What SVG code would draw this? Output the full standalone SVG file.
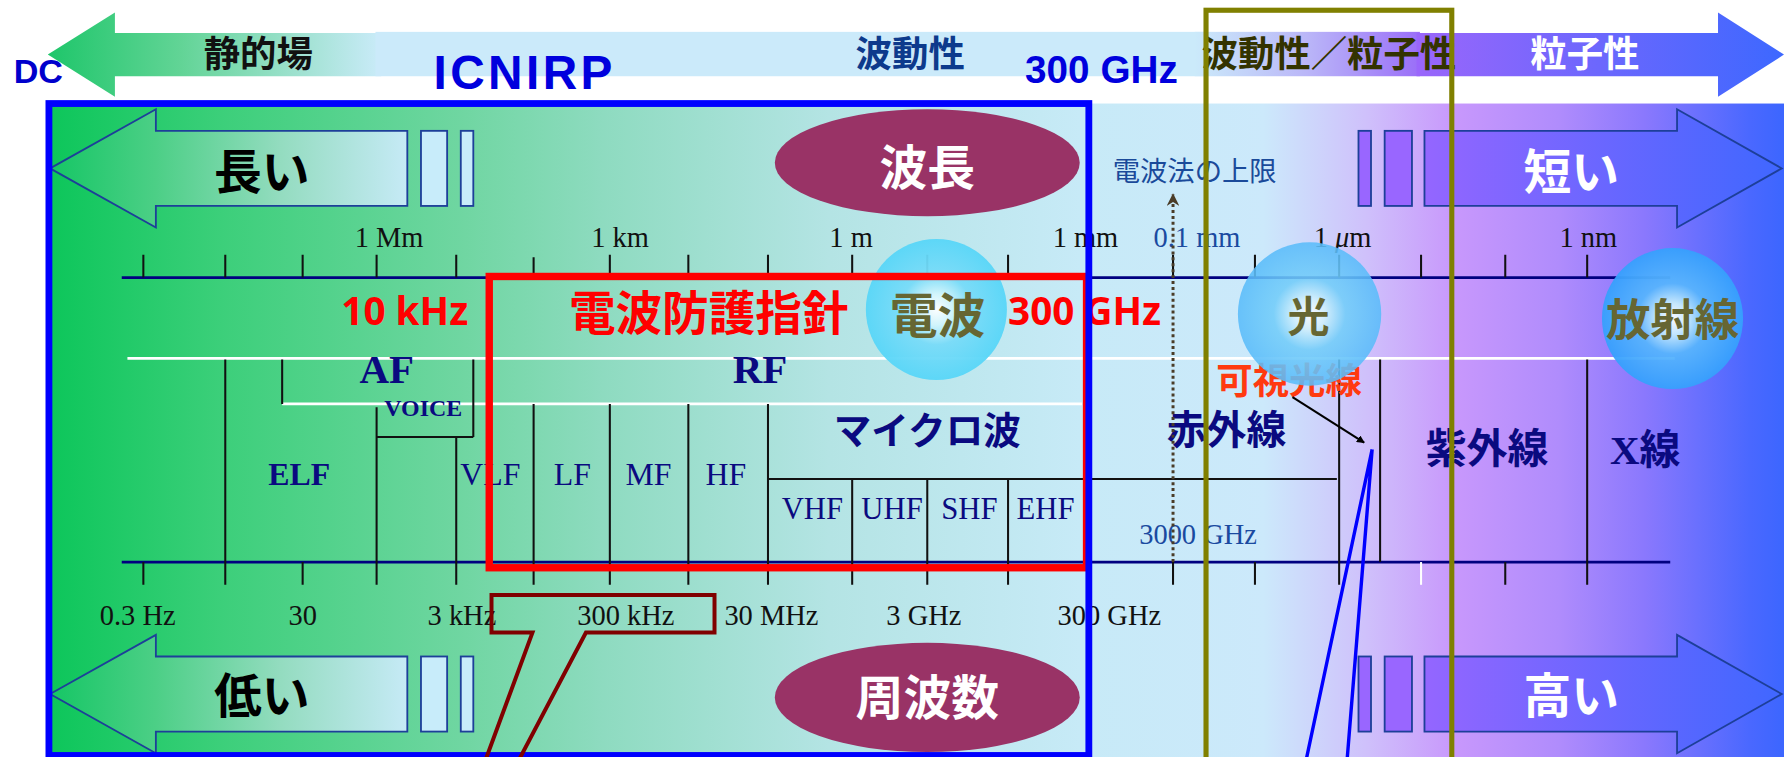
<svg xmlns="http://www.w3.org/2000/svg" width="1784" height="757" viewBox="0 0 1784 757">
<style>
.jb{font-family:"Noto Sans CJK JP","Noto Sans CJK SC",sans-serif;font-weight:700}
.jn{font-family:"Noto Sans CJK JP","Noto Sans CJK SC",sans-serif;font-weight:400}
.tm{font-family:"Liberation Serif","DejaVu Serif",serif}
.tb{font-family:"Liberation Serif","DejaVu Serif",serif;font-weight:700}
.sb{font-family:"Liberation Sans",Arial,sans-serif;font-weight:700}
.nb{font-family:"Noto Sans","Liberation Sans",sans-serif;font-weight:700}
.mid{text-anchor:middle}
.blk{stroke:#111;stroke-width:1.8;fill:none}
.navy{stroke:#000080;stroke-width:2.4;fill:none}
.wht{stroke:#ffffff;stroke-width:2.4;fill:none}
.arrOut{stroke:#1d3f99;stroke-width:1.6}
.band{fill:#0a0a80}
</style>
<defs>
<linearGradient id="gTopL" gradientUnits="userSpaceOnUse" x1="42" y1="0" x2="335" y2="0">
<stop offset="0" stop-color="#1ec66a"/><stop offset="0.4" stop-color="#62d496"/><stop offset="1" stop-color="#caebf9"/>
</linearGradient>
<linearGradient id="gTopMid" gradientUnits="userSpaceOnUse" x1="1050" y1="0" x2="1248" y2="0">
<stop offset="0" stop-color="#cbeafa"/><stop offset="0.5" stop-color="#bab6f8"/><stop offset="1" stop-color="#9a6ef8"/>
</linearGradient>
<linearGradient id="gTopR" gradientUnits="userSpaceOnUse" x1="1245" y1="0" x2="1568" y2="0">
<stop offset="0" stop-color="#9a66fb"/><stop offset="1" stop-color="#3d68ff"/>
</linearGradient>
<linearGradient id="gBg" gradientUnits="userSpaceOnUse" x1="42" y1="0" x2="1568" y2="0">
<stop offset="0" stop-color="#0cc65a"/>
<stop offset="0.10" stop-color="#3ccf7a"/>
<stop offset="0.24" stop-color="#70d6a2"/>
<stop offset="0.32" stop-color="#8edbc0"/>
<stop offset="0.45" stop-color="#b4e4e4"/>
<stop offset="0.595" stop-color="#c7eaf7"/>
<stop offset="0.70" stop-color="#cce9fb"/>
<stop offset="0.76" stop-color="#cfc0fb"/>
<stop offset="0.81" stop-color="#c898fc"/>
<stop offset="0.87" stop-color="#b08cfc"/>
<stop offset="0.92" stop-color="#8a78fd"/>
<stop offset="0.98" stop-color="#4a68ff"/>
<stop offset="1" stop-color="#3c66ff"/>
</linearGradient>
<linearGradient id="gArrL" gradientUnits="userSpaceOnUse" x1="42" y1="0" x2="358" y2="0">
<stop offset="0" stop-color="#14c664"/><stop offset="0.3" stop-color="#4ccf86"/><stop offset="0.65" stop-color="#94dcc0"/><stop offset="1" stop-color="#c6eaf6"/>
</linearGradient>
<linearGradient id="gArrR" gradientUnits="userSpaceOnUse" x1="1252" y1="0" x2="1568" y2="0">
<stop offset="0" stop-color="#9466ff"/><stop offset="1" stop-color="#3f67ff"/>
</linearGradient>
<radialGradient id="gBub1">
<stop offset="0" stop-color="#ffffff"/><stop offset="0.22" stop-color="#d2f5fc"/><stop offset="0.5" stop-color="#78dbf8"/><stop offset="1" stop-color="#58d6f8"/>
</radialGradient>
<radialGradient id="gBub2">
<stop offset="0" stop-color="#ffffff"/><stop offset="0.22" stop-color="#d0f0fc"/><stop offset="0.5" stop-color="#72cdf9"/><stop offset="1" stop-color="#5abcfa"/>
</radialGradient>
<radialGradient id="gBub3">
<stop offset="0" stop-color="#ffffff"/><stop offset="0.22" stop-color="#c8ecfd"/><stop offset="0.5" stop-color="#58b4fd"/><stop offset="1" stop-color="#36a0fd"/>
</radialGradient>
<marker id="mBlk" viewBox="0 0 10 10" refX="9" refY="5" markerWidth="7" markerHeight="7" orient="auto" markerUnits="userSpaceOnUse">
<path d="M0,0 L10,5 L0,10 z" fill="#000"/>
</marker>
<marker id="mBrn" viewBox="0 0 10 10" refX="9" refY="5" markerWidth="11" markerHeight="11" orient="auto" markerUnits="userSpaceOnUse">
<path d="M0,0 L10,5 L0,10 L3,5 z" fill="#4a3c28"/>
</marker>
</defs>
<rect width="1784" height="757" fill="#ffffff"/>
<g transform="scale(1.13776)">

<g id="top-band">
<polygon points="42,48 101,11 101,29 335,29 335,67 101,67 101,85" fill="url(#gTopL)"/>
<rect x="330" y="28" width="730" height="39" fill="#cbeafa"/>
<rect x="1050" y="28" width="198" height="39" fill="url(#gTopMid)"/>
<polygon points="1245,29 1510,29 1510,11 1568,48 1510,85 1510,67 1245,67" fill="url(#gTopR)"/>
<text class="sb" x="12" y="73" font-size="30" fill="#0000cc">DC</text>
<text class="jb mid" x="227" y="59" font-size="32" fill="#111">静的場</text>
<text class="sb" x="381" y="78" font-size="42" letter-spacing="3" fill="#0000dd">ICNIRP</text>
<text class="jb mid" x="800" y="59" font-size="32" fill="#0d3a8c">波動性</text>
<text class="sb" x="901" y="73" font-size="34" fill="#0000dd">300 GHz</text>
<text class="jb mid" x="1168" y="59" font-size="32" fill="#333300">波動性／粒子性</text>
<text class="jb mid" x="1393" y="59" font-size="32" fill="#ffffff">粒子性</text>
</g>

<g id="background">
<rect x="42" y="91" width="1526" height="580" fill="url(#gBg)"/>
</g>

<g id="wavelength-ellipse">
<ellipse cx="815" cy="143" rx="134" ry="47" fill="#993366"/>
<text class="jb mid" x="815" y="163" font-size="42" fill="#ffffff">波長</text>
</g>
<g id="frequency-ellipse">
<ellipse cx="815" cy="613" rx="134" ry="48" fill="#993366"/>
<text class="jb mid" x="815" y="628" font-size="42" fill="#ffffff">周波数</text>
</g>

<g id="arrow-long">
<polygon class="arrOut" points="44,148 137,96 137,115 358,115 358,181 137,181 137,200" fill="url(#gArrL)"/>
<rect class="arrOut" x="370" y="115" width="23" height="66" fill="#c8ecfa"/>
<rect class="arrOut" x="405" y="115" width="11" height="66" fill="#c8ecfa"/>
<text class="jb mid" x="230" y="166" font-size="42" fill="#000">長い</text>
</g>
<g id="arrow-short">
<rect class="arrOut" x="1194" y="115" width="11" height="66" fill="#9966ff"/>
<rect class="arrOut" x="1217" y="115" width="24" height="66" fill="#9966ff"/>
<polygon class="arrOut" points="1252,115 1474,115 1474,96 1566,148 1474,200 1474,181 1252,181" fill="url(#gArrR)"/>
<text class="jb mid" x="1381" y="166" font-size="42" fill="#ffffff">短い</text>
</g>
<g id="arrow-low">
<polygon class="arrOut" points="44,610 137,558 137,577 358,577 358,643 137,643 137,662" fill="url(#gArrL)"/>
<rect class="arrOut" x="370" y="577" width="23" height="66" fill="#c8ecfa"/>
<rect class="arrOut" x="405" y="577" width="11" height="66" fill="#c8ecfa"/>
<text class="jb mid" x="230" y="627" font-size="42" fill="#000">低い</text>
</g>
<g id="arrow-high">
<rect class="arrOut" x="1194" y="577" width="11" height="66" fill="#9966ff"/>
<rect class="arrOut" x="1217" y="577" width="24" height="66" fill="#9966ff"/>
<polygon class="arrOut" points="1252,577 1474,577 1474,558 1566,610 1474,662 1474,643 1252,643" fill="url(#gArrR)"/>
<text class="jb mid" x="1381" y="627" font-size="42" fill="#ffffff">高い</text>
</g>

<g id="scales">
<path class="wht" d="M112,315 H1472 M248,355 H951"/>
<path class="navy" d="M107,244 H1468 M107,494 H1468"/>
<path class="blk" d="M126,224 V244 M198,224 V244 M266,224 V244 M331,224 V244 M401,224 V244 M469,226 V246 M536,224 V244 M605,224 V244 M675,224 V244 M749,224 V244 M815,224 V244 M886,224 V244 M1031,224 V244 M1103,224 V244 M1177,224 V244 M1249,224 V244 M1323,224 V244 M1395,224 V244"/>
<path class="blk" d="M126,494 V514 M266,494 V514 M1031,494 V514 M1103,494 V514 M1323,494 V514"/>
<path d="M1249,494 V514" stroke="#ffffff" stroke-width="1.8"/>
<path class="blk" d="M198,316 V514 M248,316 V355 M331,358 V514 M416,316 V384 M331,384 H416 M401,384 V514 M469,355 V514 M536,355 V514 M605,355 V514 M675,355 V514 M675,421 H1175 M749,421 V514 M815,421 V514 M886,421 V514 M1177,316 V514 M1213,316 V494 M1395,316 V514"/>
</g>

<g id="wavelength-labels" class="tm" font-size="25" fill="#111">
<text class="mid" x="342" y="217">1 Mm</text>
<text class="mid" x="545" y="217">1 km</text>
<text class="mid" x="748" y="217">1 m</text>
<text class="mid" x="954" y="217">1 mm</text>
<text class="mid" x="1052" y="217" fill="#1a4aa0">0.1 mm</text>
<text class="mid" x="1180" y="217">1 <tspan font-style="italic">μ</tspan>m</text>
<text class="mid" x="1396" y="217">1 nm</text>
</g>
<g id="frequency-labels" class="tm" font-size="25" fill="#111">
<text class="mid" x="121" y="549">0.3 Hz</text>
<text class="mid" x="266" y="549">30</text>
<text class="mid" x="406" y="549">3 kHz</text>
<text class="mid" x="550" y="549">300 kHz</text>
<text class="mid" x="678" y="549">30 MHz</text>
<text class="mid" x="812" y="549">3 GHz</text>
<text class="mid" x="975" y="549">300 GHz</text>
</g>

<g id="band-labels">
<text class="tb mid band" x="340" y="337" font-size="36">AF</text>
<text class="tb mid band" x="372" y="366" font-size="21">VOICE</text>
<text class="tb mid band" x="263" y="426" font-size="28">ELF</text>
<text class="tm mid band" x="431" y="426" font-size="28">VLF</text>
<text class="tm mid band" x="503" y="426" font-size="28">LF</text>
<text class="tm mid band" x="570" y="426" font-size="28">MF</text>
<text class="tm mid band" x="638" y="426" font-size="28">HF</text>
<text class="tb mid band" x="668" y="337" font-size="36">RF</text>
<text class="jb mid band" x="815" y="390" font-size="33">マイクロ波</text>
<text class="tm mid band" x="714" y="456" font-size="27">VHF</text>
<text class="tm mid band" x="784" y="456" font-size="27">UHF</text>
<text class="tm mid band" x="852" y="456" font-size="27">SHF</text>
<text class="tm mid band" x="919" y="456" font-size="27">EHF</text>
<text class="jb mid band" x="1078" y="390" font-size="35">赤外線</text>
<text class="jb mid band" x="1307" y="407" font-size="36">紫外線</text>
<text class="mid band" x="1446" y="408" font-size="36"><tspan class="tb">X</tspan><tspan class="jb">線</tspan></text>
<text class="tm mid" x="1053" y="478" font-size="25" fill="#1a4aa0">3000 GHz</text>
<text class="jn mid" x="1050" y="159" font-size="24" fill="#1a4a9a">電波法の上限</text>
</g>

<g id="guideline-labels">
<text class="nb" x="300" y="286" font-size="34" fill="#ff0000">10 kHz</text>
<text class="jb" x="500" y="290" font-size="41" fill="#ff0000">電波防護指針</text>
<text class="nb" x="886" y="286" font-size="34" fill="#ff0000">300 GHz</text>
<text class="jb mid" x="1133" y="346" font-size="32" fill="#ff3a10">可視光線</text>
</g>

<g id="bubble-radio">
<circle cx="823" cy="272" r="62" fill="url(#gBub1)" opacity="0.95"/>
<text class="jb mid" x="824" y="293" font-size="42" fill="#666633">電波</text>
</g>
<g id="bubble-light">
<circle cx="1151" cy="276" r="63" fill="url(#gBub2)" opacity="0.88"/>
<text class="jb mid" x="1150" y="292" font-size="37" fill="#666633">光</text>
</g>
<g id="bubble-radiation">
<circle cx="1470" cy="280" r="62" fill="url(#gBub3)" opacity="0.95"/>
<text class="jb mid" x="1470" y="295" font-size="39" fill="#666633">放射線</text>
</g>

<g id="frames">
<rect id="red-frame" x="430" y="243" width="525" height="256" fill="none" stroke="#ff0000" stroke-width="6.5"/>
<rect id="blue-frame" x="43" y="91" width="914" height="573" fill="none" stroke="#0000ff" stroke-width="6"/>
<rect id="olive-frame" x="1060" y="9" width="216" height="670" fill="none" stroke="#808000" stroke-width="4.5"/>
</g>

<g id="connectors">
<line x1="1031" y1="494" x2="1031" y2="171" stroke="#4a3c28" stroke-width="2.6" stroke-dasharray="2.6,2.6" marker-end="url(#mBrn)"/>
<line x1="1136" y1="349" x2="1199" y2="389" stroke="#000" stroke-width="1.8" marker-end="url(#mBlk)"/>
<path d="M1206,395 L1148,668 M1206,395 L1184,668" stroke="#0000ff" stroke-width="3" fill="none"/>
<polygon points="432,523 628,523 628,556 515,556 455,670 426,670 468,556 432,556" fill="none" stroke="#800000" stroke-width="3.5"/>
</g>

</g>
</svg>
